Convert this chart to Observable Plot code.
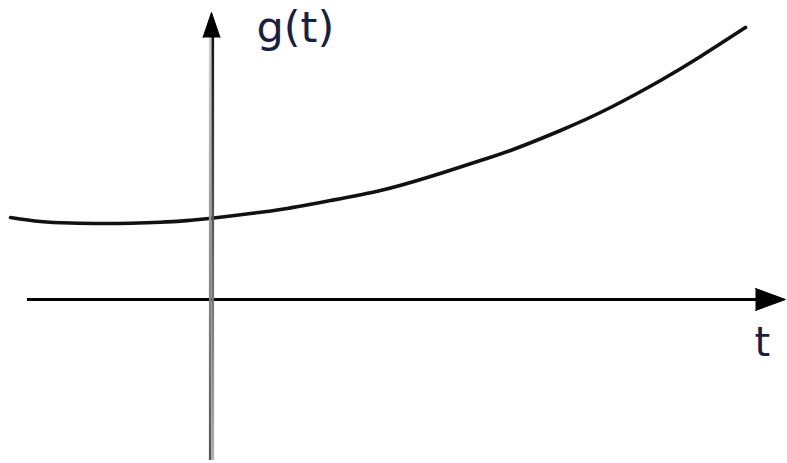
<!DOCTYPE html>
<html>
<head>
<meta charset="utf-8">
<script src="https://cdn.jsdelivr.net/npm/d3@7"></script>
<script src="https://cdn.jsdelivr.net/npm/@observablehq/plot@0.6"></script>
<style>
  html, body { margin: 0; padding: 0; background: #fff; }
</style>
</head>
<body>
<div id="chart"></div>
<script>
// Curve samples
const tValues = [-2.01, -1.71, -1.41, -1.11, -0.81, -0.51, -0.21, 0, 0.39, 0.69, 1.19, 1.69, 2.19, 2.69, 2.99, 3.49, 3.99, 4.49, 4.89, 5.34];
const gValues = [0.82, 0.78, 0.765, 0.76, 0.762, 0.772, 0.792, 0.812, 0.86, 0.90, 0.99, 1.09, 1.23, 1.39, 1.49, 1.69, 1.92, 2.19, 2.43, 2.72];

// Axis extents (start, arrow tip)
const tAxis = [-1.84, 5.74];
const gAxis = [-1.61, 2.87];

// Axis labels
const yLabel = "g(t)";
const xLabel = "t";

const curve = tValues.map((t, i) => ({t, g: gValues[i]}));

const xHead = [
  {t: tAxis[1] - 0.30, g: 0.11},
  {t: tAxis[1], g: 0},
  {t: tAxis[1] - 0.30, g: -0.11}
];
const yHead = [
  {t: -0.085, g: gAxis[1] - 0.25},
  {t: 0, g: gAxis[1]},
  {t: 0.085, g: gAxis[1] - 0.25}
];

const plot = Plot.plot({
  width: 787,
  height: 463,
  margin: 0,
  x: {domain: [-2.11, 5.76], axis: null},
  y: {domain: [-1.64, 2.99], axis: null},
  style: {background: "#fff"},
  marks: [
    Plot.ruleY([0], {x1: tAxis[0], x2: tAxis[1] - 0.25, stroke: "#000", strokeWidth: 3}),
    Plot.line(xHead, {x: "t", y: "g", fill: "#000", stroke: "#000", strokeWidth: 1}),
    Plot.line(curve, {x: "t", y: "g", stroke: "#111", strokeWidth: 3.6, curve: "natural"}),
    Plot.ruleX([0], {y1: gAxis[0], y2: gAxis[1] - 0.2, stroke: "#a1a1a1", strokeWidth: 2.6, dx: -1.3}),
    Plot.ruleX([0], {y1: gAxis[0], y2: gAxis[1] - 0.2, stroke: "#a2a2a2", strokeWidth: 2.6, dx: 1.3}),
    Plot.line(yHead, {x: "t", y: "g", fill: "#000", stroke: "#000", strokeWidth: 1}),
    Plot.text([yLabel], {x: 0.45, y: 2.58, text: d => d, textAnchor: "start", lineAnchor: "bottom",
      fontSize: 43, fontFamily: "DejaVu Sans", fill: "#1a2040"}),
    Plot.text([xLabel], {x: 5.43, y: -0.56, text: d => d, textAnchor: "start", lineAnchor: "bottom",
      fontSize: 40, fontFamily: "DejaVu Sans", fill: "#1a2040"})
  ]
});

// vertical gradients for the two-tone vertical axis
const svg = d3.select(plot);
const defs = svg.insert("defs", ":first-child");
const mk = (id, top, bottom) => {
  const g = defs.append("linearGradient").attr("id", id)
    .attr("gradientUnits", "userSpaceOnUse").attr("x1", 0).attr("x2", 0).attr("y1", 30).attr("y2", 460);
  g.append("stop").attr("offset", 0).attr("stop-color", top);
  g.append("stop").attr("offset", 1).attr("stop-color", bottom);
};
mk("axL", "#d0d0d0", "#555555");
mk("axR", "#111111", "#b0b0b0");
svg.selectAll('[stroke="#a1a1a1"]').attr("stroke", "url(#axL)");
svg.selectAll('[stroke="#a2a2a2"]').attr("stroke", "url(#axR)");

document.getElementById("chart").appendChild(plot);
</script>
</body>
</html>
